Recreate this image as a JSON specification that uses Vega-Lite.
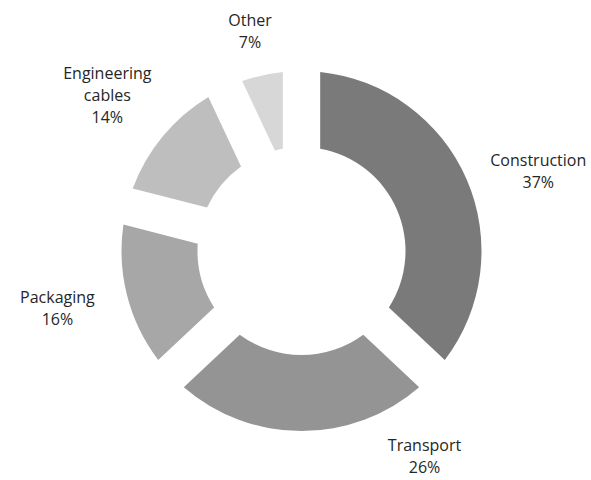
{
  "$schema": "https://vega.github.io/schema/vega-lite/v6.json",
  "width": 579,
  "height": 458,
  "autosize": {"type": "none"},
  "padding": {"left": 12, "top": 22, "right": 0, "bottom": 0},
  "background": "white",
  "view": {"stroke": null},
  "config": {"text": {"font": "Open Sans", "fontSize": 16, "lineHeight": 22, "align": "center", "baseline": "middle", "lineBreak": "\n", "color": "#262626"}},
  "data": {
    "values": [
      {"category": "Construction", "value": 37},
      {"category": "Transport", "value": 26},
      {"category": "Packaging", "value": 16},
      {"category": "Engineering cables", "value": 14},
      {"category": "Other", "value": 7}
    ]
  },
  "transform": [
    {"window": [{"op": "row_number", "as": "rank"}]},
    {"calculate": "replace(datum.category, ' ', '\\n') + '\\n' + datum.value + '%'", "as": "label"}
  ],
  "encoding": {
    "theta": {"field": "value", "type": "quantitative", "stack": true},
    "order": {"field": "rank", "type": "quantitative"}
  },
  "layer": [
    {
      "mark": {"type": "arc", "outerRadius": 180, "innerRadius": 104, "padAngle": 0.18},
      "encoding": {
        "color": {
          "field": "category",
          "type": "nominal",
          "scale": {
            "domain": ["Construction", "Transport", "Packaging", "Engineering cables", "Other"],
            "range": ["#7a7a7a", "#949494", "#a7a7a7", "#bebebe", "#d7d7d7"]
          },
          "legend": null
        }
      }
    },
    {
      "mark": {"type": "text", "radius": 258, "dy": 12},
      "encoding": {
        "text": {"field": "label"},
        "opacity": {"condition": {"test": "datum.category === 'Construction'", "value": 1}, "value": 0}
      }
    },
    {
      "mark": {"type": "text", "radius": 252, "dy": -16},
      "encoding": {
        "text": {"field": "label"},
        "opacity": {"condition": {"test": "datum.category === 'Packaging' || datum.category === 'Engineering cables'", "value": 1}, "value": 0}
      }
    },
    {
      "mark": {"type": "text", "radius": 236},
      "encoding": {
        "text": {"field": "label"},
        "opacity": {"condition": {"test": "datum.category === 'Other'", "value": 1}, "value": 0}
      }
    },
    {
      "mark": {"type": "text", "radius": 195, "dx": 123},
      "encoding": {
        "text": {"field": "label"},
        "opacity": {"condition": {"test": "datum.category === 'Transport'", "value": 1}, "value": 0}
      }
    }
  ]
}
